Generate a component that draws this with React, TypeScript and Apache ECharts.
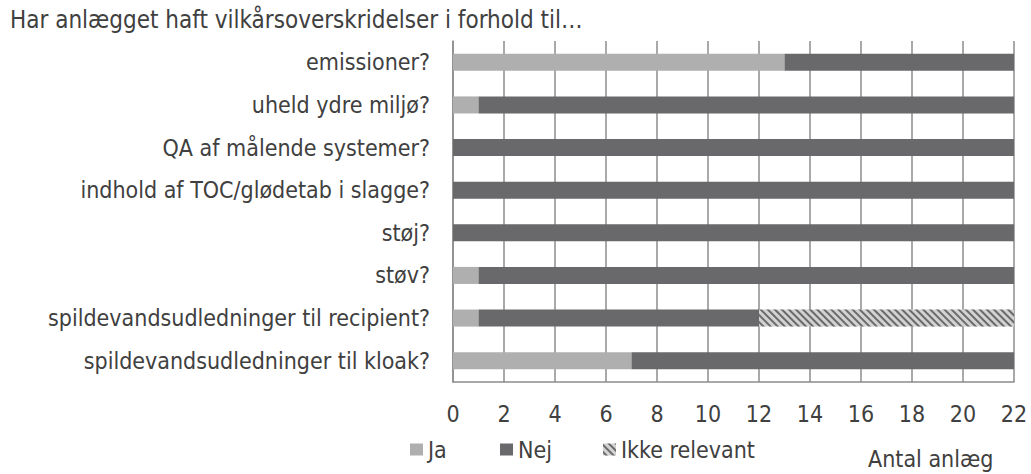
import React, { useEffect, useRef } from "react";
import * as echarts from "echarts";

const categories = [
  "emissioner?",
  "uheld ydre miljø?",
  "QA af målende systemer?",
  "indhold af TOC/glødetab i slagge?",
  "støj?",
  "støv?",
  "spildevandsudledninger til recipient?",
  "spildevandsudledninger til kloak?",
];
const jaValues = [13, 1, 0, 0, 0, 1, 1, 7];
const nejValues = [9, 21, 22, 22, 22, 21, 11, 15];
const ikkeValues = [0, 0, 0, 0, 0, 0, 10, 0];
const seriesNames = ["Ja", "Nej", "Ikke relevant"];
const titleText = "Har anlægget haft vilkårsoverskridelser i forhold til…";
const axisName = "Antal anlæg";

const FONT = "'DejaVu Sans Condensed', 'DejaVu Sans'";
const TEXT = "#404040";
const GRIDC = "#8c8c8c";

export default function App() {
  const ref = useRef<HTMLDivElement>(null);
  useEffect(() => {
    if (!ref.current) return;
    const chart = echarts.init(ref.current, undefined, { renderer: "svg" });
    const legendLefts = [410, 500, 603];
    chart.setOption({
      animation: false,
      textStyle: { fontFamily: FONT },
      title: {
        text: titleText,
        left: 10,
        top: 8,
        padding: 0,
        textStyle: { fontFamily: FONT, fontSize: 24, fontWeight: "normal", color: TEXT },
      },
      legend: seriesNames.map((n, i) => ({
        left: legendLefts[i],
        top: 438,
        padding: 0,
        icon: "rect",
        itemWidth: 13,
        itemHeight: 12,
        textStyle: { fontFamily: FONT, fontSize: 23, color: TEXT },
        data: [n],
      })),
      graphic: [
        {
          type: "text",
          left: 868,
          top: 447,
          style: { text: axisName, font: `23px ${FONT}`, fill: TEXT },
        },
      ],
      grid: { left: 453, right: 17, top: 41, bottom: 92, containLabel: false },
      xAxis: {
        type: "value",
        min: 0,
        max: 22,
        interval: 2,
        axisLine: { show: true, lineStyle: { color: GRIDC, width: 1.5 } },
        axisTick: { show: false },
        splitLine: { show: true, lineStyle: { color: GRIDC, width: 1.5 } },
        axisLabel: { fontFamily: FONT, fontSize: 23, color: TEXT, margin: 20 },
      },
      yAxis: {
        type: "category",
        inverse: true,
        data: categories,
        axisLine: { show: true, lineStyle: { color: GRIDC, width: 1.5 } },
        axisTick: { show: false },
        axisLabel: { fontFamily: FONT, fontSize: 23, color: TEXT, margin: 23 },
      },
      series: [
        {
          name: seriesNames[0],
          type: "bar",
          stack: "s",
          barWidth: "40%",
          data: jaValues,
          itemStyle: { color: "#b0afb0" },
        },
        {
          name: seriesNames[1],
          type: "bar",
          stack: "s",
          data: nejValues,
          itemStyle: { color: "#69696b" },
        },
        {
          name: seriesNames[2],
          type: "bar",
          stack: "s",
          data: ikkeValues,
          itemStyle: {
            color: "#d2d2d2",
            decal: {
              symbol: "rect",
              symbolSize: 1,
              dashArrayX: [1, 0],
              dashArrayY: [1.2, 2.2],
              rotation: Math.PI / 4,
              color: "#6a6a6a",
            },
          },
        },
      ],
    });
    return () => chart.dispose();
  }, []);
  return (
    <div
      ref={ref}
      style={{ position: "absolute", left: 0, top: 0, width: 1031, height: 474 }}
    />
  );
}
